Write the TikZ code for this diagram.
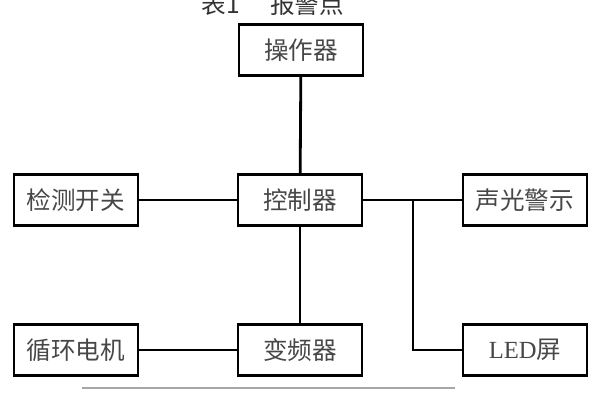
\documentclass[tikz,border=0pt]{standalone}
\usepackage{fontspec}
\newfontfamily\cjk{Noto Sans CJK SC}
\newfontfamily\latin{Liberation Serif}
\begin{document}
\begin{tikzpicture}[
            x=0.02cm, y=-0.02cm,
            every node/.style={draw, line width=1.6pt, minimum width=2.48cm, minimum height=1.02cm,
                inner sep=0pt, text=black!72, font=\cjk\fontsize{14}{16}\selectfont},
            caption/.style={draw=none, minimum width=0pt, minimum height=0pt, text=black!80},
            line width=1.6pt]

            \useasboundingbox (0,0) rectangle (600,400);

            \node[caption] (title) at (273,4) {表1\quad\ 报警点};

            \node (operator) at (301,50) {操作器};
            \node (control) at (300,200) {控制器};
            \node (inverter) at (300,350) {变频器};
            \node (switch) at (76,200) {检测开关};
            \node (motor) at (76,350) {循环电机};
            \node (alarm) at (525,200) {声光警示};
            \node (led) at (525,350) {{\latin LED}屏};

            \coordinate (branch) at (413,200);

            \draw (operator) -- (control);
            \draw (control) -- (inverter);
            \draw (switch) -- (control);
            \draw (motor) -- (inverter);
            \draw (control) -- (alarm);
            \draw (branch) |- (led);

            \draw[line width=0.6pt, gray!70] (82,388) -- (455,388);
        \end{tikzpicture}
\end{document}
